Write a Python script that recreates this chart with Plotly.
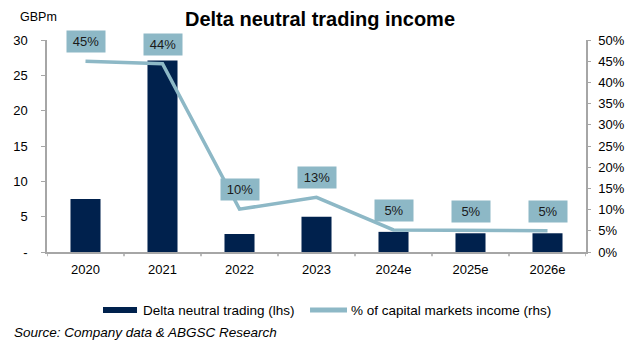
import plotly.graph_objects as go

years = ["2020", "2021", "2022", "2023", "2024e", "2025e", "2026e"]
income_gbpm = [7.5, 27.1, 2.55, 5.0, 2.85, 2.65, 2.65]
share_pct = [45.0, 44.4, 10.1, 12.9, 5.2, 5.0, 5.0]
share_labels = ["45%", "44%", "10%", "13%", "5%", "5%", "5%"]

left_ticks = [0, 5, 10, 15, 20, 25, 30]
left_tick_text = ["-", "5", "10", "15", "20", "25", "30"]
right_ticks = [0, 5, 10, 15, 20, 25, 30, 35, 40, 45, 50]
right_tick_text = [f"{v}%" for v in right_ticks]

bar_name = "Delta neutral trading (lhs)"
line_name = "% of capital markets income (rhs)"

NAVY = "#00214d"
TEAL = "#8db8c6"
AXIS = "#a6a6a6"
FONT = "Liberation Sans, Arial, sans-serif"

fig = go.Figure()
fig.add_trace(go.Bar(
    x=years, y=income_gbpm, name=bar_name,
    marker=dict(color=NAVY, line=dict(width=0)), width=0.39, yaxis="y",
    showlegend=False,
))
fig.add_trace(go.Scatter(
    x=years, y=share_pct, name=line_name,
    mode="lines", line=dict(color=TEAL, width=3.5), yaxis="y2",
    showlegend=False,
))

# value boxes above the percentage line (x given as category index)
for i, (v, lab) in enumerate(zip(share_pct, share_labels)):
    fig.add_annotation(
        x=i, y=v, xref="x", yref="y2", text=lab, showarrow=False, yshift=19.5,
        bgcolor=TEAL, width=36, height=19, borderpad=1,
        font=dict(family=FONT, size=13, color="#1a1a1a"),
    )

fig.add_annotation(
    xref="paper", yref="paper", x=-0.0158, y=1.11, text="GBPm",
    showarrow=False, xanchor="center", yanchor="middle",
    font=dict(family=FONT, size=12.5, color="#000000"),
)
fig.add_annotation(
    xref="paper", yref="paper", x=-0.065, y=-0.382,
    text="<i>Source: Company data &amp; ABGSC Research</i>",
    showarrow=False, xanchor="left", yanchor="middle",
    font=dict(family=FONT, size=13.5, color="#000000"),
)

# hand-drawn legend: wide bar swatch and thick line swatch
fig.add_shape(type="rect", xref="paper", yref="paper", x0=0.1039, x1=0.167,
              y0=-0.2877, y1=-0.2594, fillcolor=NAVY, line=dict(width=0))
fig.add_annotation(xref="paper", yref="paper", x=0.1744, y=-0.2736, text=bar_name,
                   showarrow=False, xanchor="left", yanchor="middle",
                   font=dict(family=FONT, size=13.5, color="#000000"))
fig.add_shape(type="line", xref="paper", yref="paper", x0=0.488, x1=0.5566,
              y0=-0.2736, y1=-0.2736, line=dict(color=TEAL, width=5))
fig.add_annotation(xref="paper", yref="paper", x=0.5603, y=-0.2736, text=line_name,
                   showarrow=False, xanchor="left", yanchor="middle",
                   font=dict(family=FONT, size=13.5, color="#000000"))

fig.update_layout(
    width=640, height=343,
    margin=dict(l=47, r=54, t=40, b=91),
    paper_bgcolor="white", plot_bgcolor="white",
    font=dict(family=FONT, size=13, color="#000000"),
    title=dict(text="<b>Delta neutral trading income</b>", x=0.5, xanchor="center",
               y=0.945, yanchor="middle", font=dict(family=FONT, size=20, color="#000000")),
    showlegend=False,
    xaxis=dict(
        type="category",
        showline=True, linecolor=AXIS, linewidth=1.5, ticks="", showgrid=False,
        tickfont=dict(family=FONT, size=13), range=[-0.5, 6.5], ticklabelstandoff=5,
    ),
    yaxis=dict(
        range=[0, 30], tickvals=left_ticks, ticktext=left_tick_text,
        showline=True, linecolor=AXIS, linewidth=1.5, ticks="outside", ticklen=4,
        tickcolor=AXIS, showgrid=False, zeroline=False, tickfont=dict(family=FONT, size=13),
        ticklabelstandoff=11,
    ),
    yaxis2=dict(
        range=[0, 50], tickvals=right_ticks, ticktext=right_tick_text, overlaying="y",
        side="right", showline=True, linecolor=AXIS, linewidth=1.5, ticks="outside",
        ticklen=3, tickcolor=AXIS, showgrid=False, zeroline=False,
        tickfont=dict(family=FONT, size=13), ticklabelstandoff=5,
    ),
)

# category boundary tick marks along the x axis
for i in range(8):
    fig.add_shape(type="line", xref="x", yref="paper", x0=i - 0.5, x1=i - 0.5,
                  y0=0, y1=-0.02, line=dict(color=AXIS, width=1.5))

fig.write_html("out.html")
